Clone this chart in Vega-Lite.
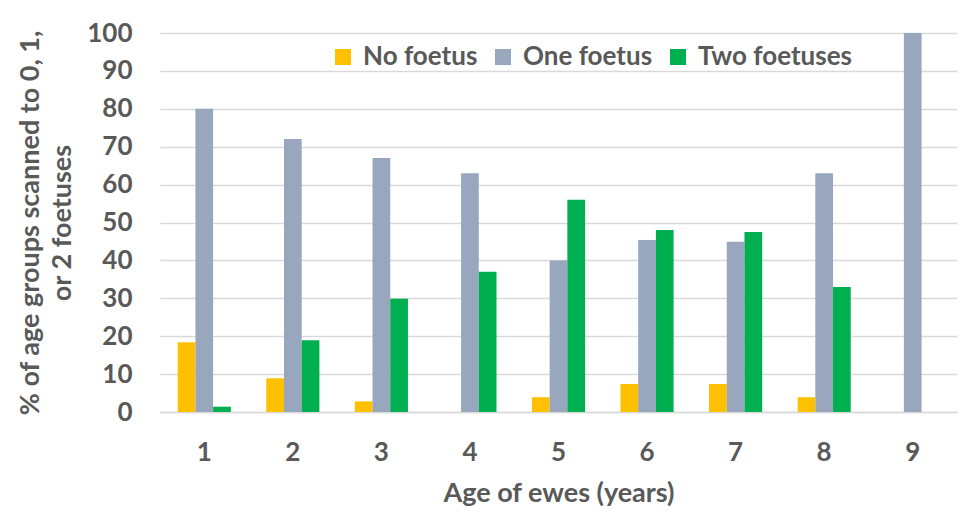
{
  "$schema": "https://vega.github.io/schema/vega-lite/v6.json",
  "autosize": {"type": "none"},
  "padding": {"left": 160, "top": 33, "right": 19, "bottom": 106},
  "width": 797,
  "height": 379,
  "background": "white",
  "config": {
    "font": "Lato",
    "view": {"stroke": null},
    "axis": {"labelFont": "Lato", "titleFont": "Lato", "labelColor": "#595959", "titleColor": "#595959", "labelFontWeight": "bold", "titleFontWeight": "bold"},
    "legend": {"labelFont": "Lato", "labelColor": "#595959", "labelFontWeight": "bold"}
  },
  "data": {
    "values": [
      {"age": "1", "type": "No foetus", "pct": 18.4},
      {"age": "1", "type": "One foetus", "pct": 80},
      {"age": "1", "type": "Two foetuses", "pct": 1.4},
      {"age": "2", "type": "No foetus", "pct": 8.9},
      {"age": "2", "type": "One foetus", "pct": 72},
      {"age": "2", "type": "Two foetuses", "pct": 18.9},
      {"age": "3", "type": "No foetus", "pct": 2.8},
      {"age": "3", "type": "One foetus", "pct": 67},
      {"age": "3", "type": "Two foetuses", "pct": 29.9},
      {"age": "4", "type": "No foetus", "pct": 0},
      {"age": "4", "type": "One foetus", "pct": 63},
      {"age": "4", "type": "Two foetuses", "pct": 37},
      {"age": "5", "type": "No foetus", "pct": 3.9},
      {"age": "5", "type": "One foetus", "pct": 40},
      {"age": "5", "type": "Two foetuses", "pct": 56},
      {"age": "6", "type": "No foetus", "pct": 7.4},
      {"age": "6", "type": "One foetus", "pct": 45.4},
      {"age": "6", "type": "Two foetuses", "pct": 48},
      {"age": "7", "type": "No foetus", "pct": 7.4},
      {"age": "7", "type": "One foetus", "pct": 44.9},
      {"age": "7", "type": "Two foetuses", "pct": 47.5},
      {"age": "8", "type": "No foetus", "pct": 3.9},
      {"age": "8", "type": "One foetus", "pct": 63},
      {"age": "8", "type": "Two foetuses", "pct": 33},
      {"age": "9", "type": "No foetus", "pct": 0},
      {"age": "9", "type": "One foetus", "pct": 100},
      {"age": "9", "type": "Two foetuses", "pct": 0}
    ]
  },
  "mark": {"type": "bar"},
  "encoding": {
    "x": {
      "field": "age", "type": "ordinal", "sort": null,
      "scale": {"paddingInner": 0.4, "paddingOuter": 0.2},
      "axis": {
        "title": "Age of ewes (years)", "titleFontSize": 27, "titlePadding": 15,
        "labelAngle": 0, "labelFontSize": 26, "labelPadding": 27,
        "ticks": false, "domainColor": "#D9D9D9", "domainWidth": 1.5
      }
    },
    "xOffset": {"field": "type", "type": "nominal", "sort": ["No foetus", "One foetus", "Two foetuses"]},
    "y": {
      "field": "pct", "type": "quantitative",
      "scale": {"domain": [0, 100], "nice": false},
      "axis": {
        "title": ["% of age groups scanned to 0, 1,", "or 2 foetuses"],
        "titleFontSize": 27, "titleLineHeight": 32, "titlePadding": 10,
        "values": [0, 10, 20, 30, 40, 50, 60, 70, 80, 90, 100],
        "labelFontSize": 26, "labelPadding": 28, "ticks": false, "domain": false,
        "gridColor": "#D9D9D9", "gridWidth": 1.5
      }
    },
    "color": {
      "field": "type", "type": "nominal",
      "sort": ["No foetus", "One foetus", "Two foetuses"],
      "scale": {"domain": ["No foetus", "One foetus", "Two foetuses"], "range": ["#FFC000", "#98A7BD", "#00B050"]},
      "legend": {
        "title": null, "orient": "none", "legendX": 170, "legendY": 11,
        "direction": "horizontal", "symbolType": "square", "symbolSize": 256,
        "symbolStrokeWidth": 0, "labelFontSize": 26, "labelOffset": 7, "columnPadding": 12
      }
    }
  }
}
